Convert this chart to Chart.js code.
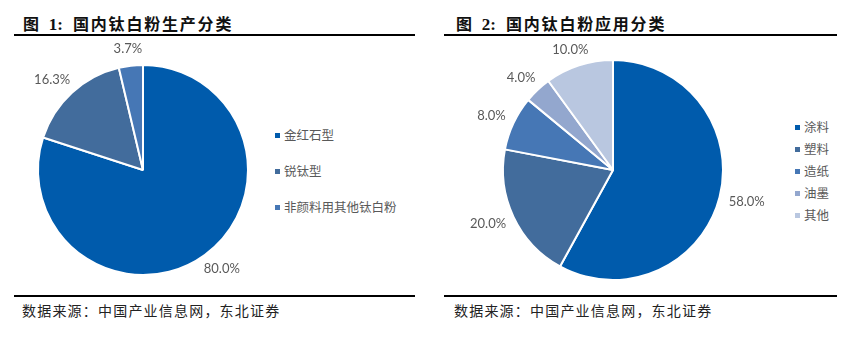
<!DOCTYPE html>
<html><head><meta charset="utf-8">
<script src="https://cdn.jsdelivr.net/npm/chart.js@4"></script>
<style>
html,body{margin:0;padding:0;background:#fff;width:860px;height:350px;overflow:hidden;position:relative;font-family:"Noto Sans CJK SC",sans-serif;}
.title{position:absolute;top:12px;font-size:16px;font-weight:bold;color:#111;letter-spacing:1.8px;white-space:nowrap;line-height:22px;}
.title .num{font-family:"Liberation Serif",serif;font-weight:bold;font-size:17px;letter-spacing:0;margin:0 10px 0 8px;}
.rule{position:absolute;height:2px;background:#000;}
.src{position:absolute;top:300px;font-size:14px;color:#222;white-space:nowrap;line-height:20px;letter-spacing:1.2px;}
canvas{position:absolute;}
.legend{position:absolute;font-size:12.5px;color:#595959;}
.legend div{position:absolute;white-space:nowrap;line-height:16px;}
.legend span.sw{display:inline-block;width:5px;height:5px;margin-right:4px;vertical-align:middle;position:relative;top:-1px;}
</style></head>
<body>
<div class="title" style="left:23px">图<span class="num">1:</span>国内钛白粉生产分类</div>
<div class="title" style="left:456px">图<span class="num">2:</span>国内钛白粉应用分类</div>
<div class="rule" style="left:14px;width:401px;top:34px"></div>
<div class="rule" style="left:444px;width:393px;top:34px"></div>
<div class="rule" style="left:14px;width:401px;top:295px"></div>
<div class="rule" style="left:444px;width:393px;top:295px"></div>
<div class="src" style="left:22px">数据来源：中国产业信息网，东北证券</div>
<div class="src" style="left:454px">数据来源：中国产业信息网，东北证券</div>
<canvas id="c1" width="260" height="260" style="left:13px;top:40px;width:260px;height:260px"></canvas>
<canvas id="c2" width="320" height="280" style="left:453px;top:30px;width:320px;height:280px"></canvas>
<div class="legend" id="lg1" style="left:275px;top:0"></div>
<div class="legend" id="lg2" style="left:795px;top:0"></div>
<script>
// Data
const cats1 = ["金红石型", "锐钛型", "非颜料用其他钛白粉"];
const vals1 = [80.0, 16.3, 3.7];
const colors1 = ["#005BAC", "#426C9C", "#4677B5"];

const cats2 = ["涂料", "塑料", "造纸", "油墨", "其他"];
const vals2 = [58.0, 20.0, 8.0, 4.0, 10.0];
const colors2 = ["#005BAC", "#426C9C", "#4677B5", "#93A7CE", "#B9C7E0"];

const outsideLabels = {
  id: 'outsideLabels',
  afterDatasetsDraw(chart, args, opts) {
    const ctx = chart.ctx;
    const meta = chart.getDatasetMeta(0);
    const data = chart.data.datasets[0].data;
    ctx.save();
    ctx.font = '13px Lato, "Open Sans", sans-serif';
    ctx.fillStyle = '#595959';
    ctx.textAlign = 'center';
    ctx.textBaseline = 'middle';
    meta.data.forEach((arc, i) => {
      const p = arc.getProps(['x','y','startAngle','endAngle','outerRadius'], true);
      const mid = (p.startAngle + p.endAngle) / 2;
      const r = p.outerRadius + opts.pad;
      const txt = data[i].toFixed(1) + '%';
      const w = ctx.measureText(txt).width, h = 13;
      const cx = p.x + Math.cos(mid) * r + Math.cos(mid) * w / 2;
      const cy = p.y + Math.sin(mid) * r + Math.sin(mid) * h / 2;
      ctx.fillText(txt, cx, cy);
    });
    ctx.restore();
  }
};

function makePie(id, cats, vals, colors, padding, pad) {
  return new Chart(document.getElementById(id), {
    type: 'pie',
    data: { labels: cats, datasets: [{ data: vals, backgroundColor: colors, borderColor: '#ffffff', borderWidth: 2 }] },
    options: {
      responsive: false, animation: false,
      layout: { padding: padding },
      plugins: { legend: { display: false }, tooltip: { enabled: false }, outsideLabels: { pad: pad } }
    },
    plugins: [outsideLabels]
  });
}
makePie('c1', cats1, vals1, colors1, 24, 11);
makePie('c2', cats2, vals2, colors2, {left:49,right:49,top:29,bottom:29}, 10);

function legend(id, cats, colors, top0, step) {
  const el = document.getElementById(id);
  cats.forEach((c, i) => {
    const d = document.createElement('div');
    d.style.top = (top0 + i * step - 8) + 'px';
    d.innerHTML = '<span class="sw" style="background:' + colors[i] + '"></span>' + c;
    el.appendChild(d);
  });
}
legend('lg1', cats1, colors1, 135, 36);
legend('lg2', cats2, colors2, 127, 22);
</script>
</body></html>
